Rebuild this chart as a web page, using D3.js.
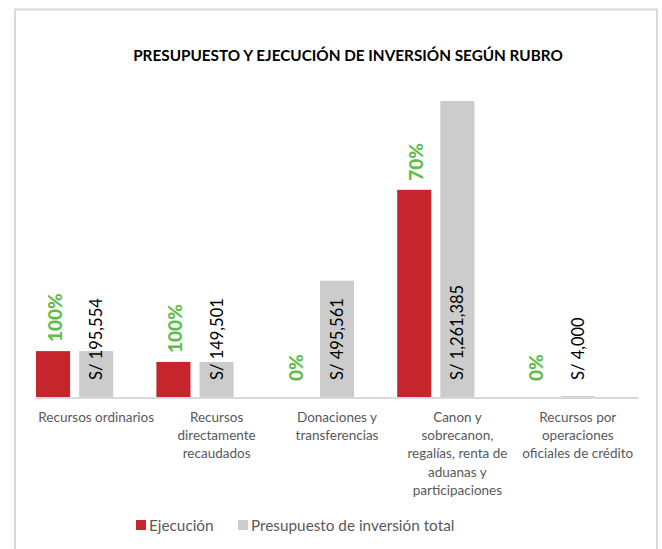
<!DOCTYPE html>
<head>
  <meta charset="utf-8">
  <script src="https://d3js.org/d3.v7.min.js"></script>
  <style>
    body { margin:0; background-color:#fff; }
    svg { display:block; font-family: Lato, "Open Sans", sans-serif; }
  </style>
</head>
<body>
<div class="chart-container"></div>
<script>
// datos
var categorias = [
  ["Recursos ordinarios"],
  ["Recursos", "directamente", "recaudados"],
  ["Donaciones y", "transferencias"],
  ["Canon y", "sobrecanon,", "regalías, renta de", "aduanas y", "participaciones"],
  ["Recursos por", "operaciones", "oficiales de crédito"]
];
var ejecucion   = [195554, 149501, 0, 883000, 0];
var presupuesto = [195554, 149501, 495561, 1261385, 4000];
var avance      = [1, 1, 0, 0.70, 0];
var series      = ["Ejecución", "Presupuesto de inversión total"];

var rojo = "#c6252d", gris = "#cccccc", verde = "#5fbd4c";

var svg = d3.select(".chart-container").append("svg")
  .attr("width", 662)
  .attr("height", 549);

// marco del grafico
svg.append("rect")
  .attr("x", 15).attr("y", 9.5)
  .attr("width", 642).attr("height", 600)
  .attr("fill", "#fff")
  .attr("stroke", "#d9d9d9")
  .attr("stroke-width", 2);

svg.append("text")
  .attr("x", 348).attr("y", 61)
  .attr("text-anchor", "middle")
  .style("font-size", "15.3px")
  .style("font-weight", "bold")
  .attr("fill", "#000")
  .text("PRESUPUESTO Y EJECUCIÓN DE INVERSIÓN SEGÚN RUBRO");

var idx = d3.range(categorias.length);

var x0 = d3.scaleBand().domain(idx).range([36, 638]).padding(0);
// tercer hueco vacio, como en el original
var x1 = d3.scaleBand().domain(["ejec", "pres", "vacio"])
  .range([0, x0.bandwidth()]).paddingInner(0.21);
var y = d3.scaleLinear().domain([0, 1400000]).range([397, 68.5]);

var grupos = svg.selectAll("g.cat")
  .data(idx)
  .enter().append("g")
  .attr("class", "cat")
  .attr("transform", function(i) { return "translate(" + x0(i) + ",0)"; });

grupos.append("rect")
  .attr("x", x1("ejec"))
  .attr("y", function(i) { return y(ejecucion[i]); })
  .attr("width", x1.bandwidth())
  .attr("height", function(i) { return y(0) - y(ejecucion[i]); })
  .attr("fill", rojo);

grupos.append("rect")
  .attr("x", x1("pres"))
  .attr("y", function(i) { return y(presupuesto[i]); })
  .attr("width", x1.bandwidth())
  .attr("height", function(i) { return y(0) - y(presupuesto[i]); })
  .attr("fill", gris);

var pct = d3.format(".0%"), miles = d3.format(",");

grupos.append("text")
  .attr("transform", function(i) {
    var cx = x1("ejec") + x1.bandwidth() / 2 + 2;
    return "translate(" + cx + "," + (y(ejecucion[i]) - (ejecucion[i] ? 9 : 16)) + ") rotate(-90)";
  })
  .attr("dy", "0.36em")
  .style("font-size", "19px")
  .style("font-weight", "900")
  .attr("fill", verde)
  .text(function(i) { return pct(avance[i]); });

grupos.append("text")
  .attr("transform", function(i) {
    var cx = x1("pres") + x1.bandwidth() / 2;
    return "translate(" + cx + "," + (y(0) - 17) + ") rotate(-90)";
  })
  .attr("dy", "0.36em")
  .style("font-size", "16.5px")
  .attr("fill", "#000")
  .text(function(i) { return "S/ " + miles(presupuesto[i]); });

// eje de categorias
var eje = svg.append("g")
  .attr("transform", "translate(0," + (y(0) + 0.5) + ")")
  .call(d3.axisBottom(x0).tickSize(0).tickSizeOuter(0).tickFormat(""));
eje.select(".domain").attr("stroke", "#d9d9d9").attr("stroke-width", 2);
eje.selectAll(".tick text").remove();
eje.selectAll(".tick").append("text")
  .attr("text-anchor", "middle")
  .attr("fill", "#595959")
  .style("font-size", "13.5px")
  .style("font-family", "Lato, sans-serif")
  .each(function(i) {
    var t = d3.select(this);
    categorias[i].forEach(function(linea, k) {
      t.append("tspan").attr("x", 0).attr("y", 24 + k * 18.4).text(linea);
    });
  });

// leyenda
var colores = [rojo, gris];
var posLeyenda = [136, 238];
var ley = svg.selectAll("g.ley")
  .data(series)
  .enter().append("g")
  .attr("transform", function(d, i) { return "translate(" + posLeyenda[i] + ",520)"; });
ley.append("rect").attr("width", 10).attr("height", 10)
  .attr("fill", function(d, i) { return colores[i]; });
ley.append("text").attr("x", 13).attr("y", 10.5)
  .style("font-size", "15.3px")
  .attr("fill", "#595959")
  .text(function(d) { return d; });
</script>
</body>
